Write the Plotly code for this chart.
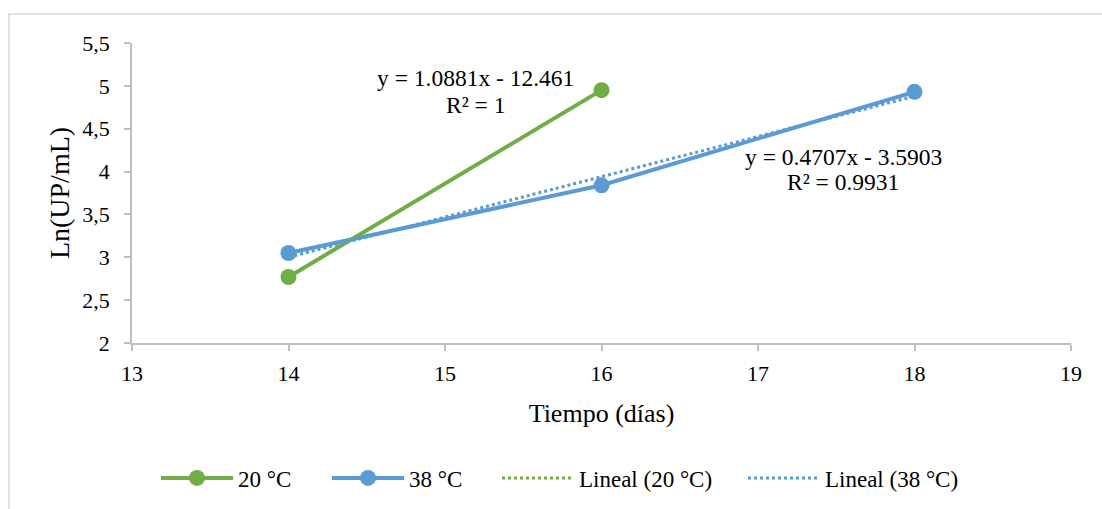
import numpy as np
import plotly.graph_objects as go

# Data
dias_20 = [14, 16]
ln_20 = [2.77, 4.95]
dias_38 = [14, 16, 18]
ln_38 = [3.05, 3.84, 4.93]

x_ticks = [13, 14, 15, 16, 17, 18, 19]
eq_20 = ["y = 1.0881x - 12.461", "R² = 1"]
eq_38 = ["y = 0.4707x - 3.5903", "R² = 0.9931"]

GREEN = "#70AD47"
BLUE = "#5B9BD5"
FONT = "Liberation Serif, Times New Roman, serif"

L, R, T, B = 132, 31, 43, 166
W, H = 1102, 509
PW = W - L - R
PH = H - T - B

def px2paper_x(px):
    return (px - L) / PW

def py2paper_y(py):
    return (H - B - py) / PH

def trend(x, y):
    m, b = np.polyfit(x, y, 1)
    xs = np.array([min(x), max(x)], dtype=float)
    return xs, m * xs + b

fig = go.Figure()
fig.add_trace(go.Scatter(x=dias_20, y=ln_20, mode="lines+markers", name="20 °C", legend="legend",
                         line=dict(color=GREEN, width=4), marker=dict(size=16, color=GREEN)))
fig.add_trace(go.Scatter(x=dias_38, y=ln_38, mode="lines+markers", name="38 °C", legend="legend2",
                         line=dict(color=BLUE, width=4), marker=dict(size=16, color=BLUE)))
tx, ty = trend(dias_20, ln_20)
fig.add_trace(go.Scatter(x=tx, y=ty, mode="lines", name="Lineal (20 °C)", legend="legend3",
                         line=dict(color=GREEN, width=3, dash="dot")))
tx, ty = trend(dias_38, ln_38)
fig.add_trace(go.Scatter(x=tx, y=ty, mode="lines", name="Lineal (38 °C)", legend="legend4",
                         line=dict(color=BLUE, width=3, dash="dot")))

ann_font = dict(family=FONT, size=23.5, color="#000")
for txt, (ax, ay) in zip(eq_20, [(15.195, 5.095), (15.195, 4.78)]):
    fig.add_annotation(x=ax, y=ay, xref="x", yref="y", text=txt, showarrow=False, font=ann_font)
for txt, (ax, ay) in zip(eq_38, [(17.546, 4.174), (17.546, 3.882)]):
    fig.add_annotation(x=ax, y=ay, xref="x", yref="y", text=txt, showarrow=False, font=ann_font)

fig.add_shape(type="rect", xref="paper", yref="paper", x0=px2paper_x(9), x1=1.2, y0=-0.8,
              y1=py2paper_y(14), line=dict(color="#D9D9D9", width=1.5),
              fillcolor="rgba(0,0,0,0)", layer="below")

leg_common = dict(orientation="h", xanchor="left", yanchor="middle", y=py2paper_y(478),
                  font=dict(family=FONT, size=23, color="#000"), bgcolor="rgba(0,0,0,0)",
                  itemwidth=72, borderwidth=0)
leg_px = [156, 327, 497, 743]

fig.update_layout(
    width=W, height=H,
    margin=dict(l=L, r=R, t=T, b=B, autoexpand=False),
    paper_bgcolor="white", plot_bgcolor="white",
    separators=",.",
    font=dict(family=FONT, size=22, color="#000"),
    showlegend=True,
    legend=dict(x=px2paper_x(leg_px[0]), **leg_common),
    legend2=dict(x=px2paper_x(leg_px[1]), **leg_common),
    legend3=dict(x=px2paper_x(leg_px[2]), **leg_common),
    legend4=dict(x=px2paper_x(leg_px[3]), **leg_common),
    xaxis=dict(range=[13, 19], tickvals=x_ticks, showgrid=False, zeroline=False,
               showline=True, linecolor="#BFBFBF", linewidth=1.5, automargin=False,
               ticks="outside", ticklen=6, tickcolor="#BFBFBF", tickwidth=1.5,
               ticklabelstandoff=4,
               tickfont=dict(family=FONT, size=22, color="#000"),
               title=dict(text="Tiempo (días)", font=dict(family=FONT, size=26, color="#000"), standoff=19)),
    yaxis=dict(range=[2, 5.5], dtick=0.5, tick0=2, showgrid=False, zeroline=False,
               showline=True, linecolor="#BFBFBF", linewidth=1.5, automargin=False,
               ticks="outside", ticklen=6, tickcolor="#BFBFBF", tickwidth=1.5,
               ticklabelstandoff=10,
               tickfont=dict(family=FONT, size=22, color="#000"),
               title=dict(text="Ln(UP/mL)", font=dict(family=FONT, size=28, color="#000"), standoff=5)),
)

fig.write_html("out.html", post_script="document.body.style.margin='0';",
               config={"displayModeBar": False})
